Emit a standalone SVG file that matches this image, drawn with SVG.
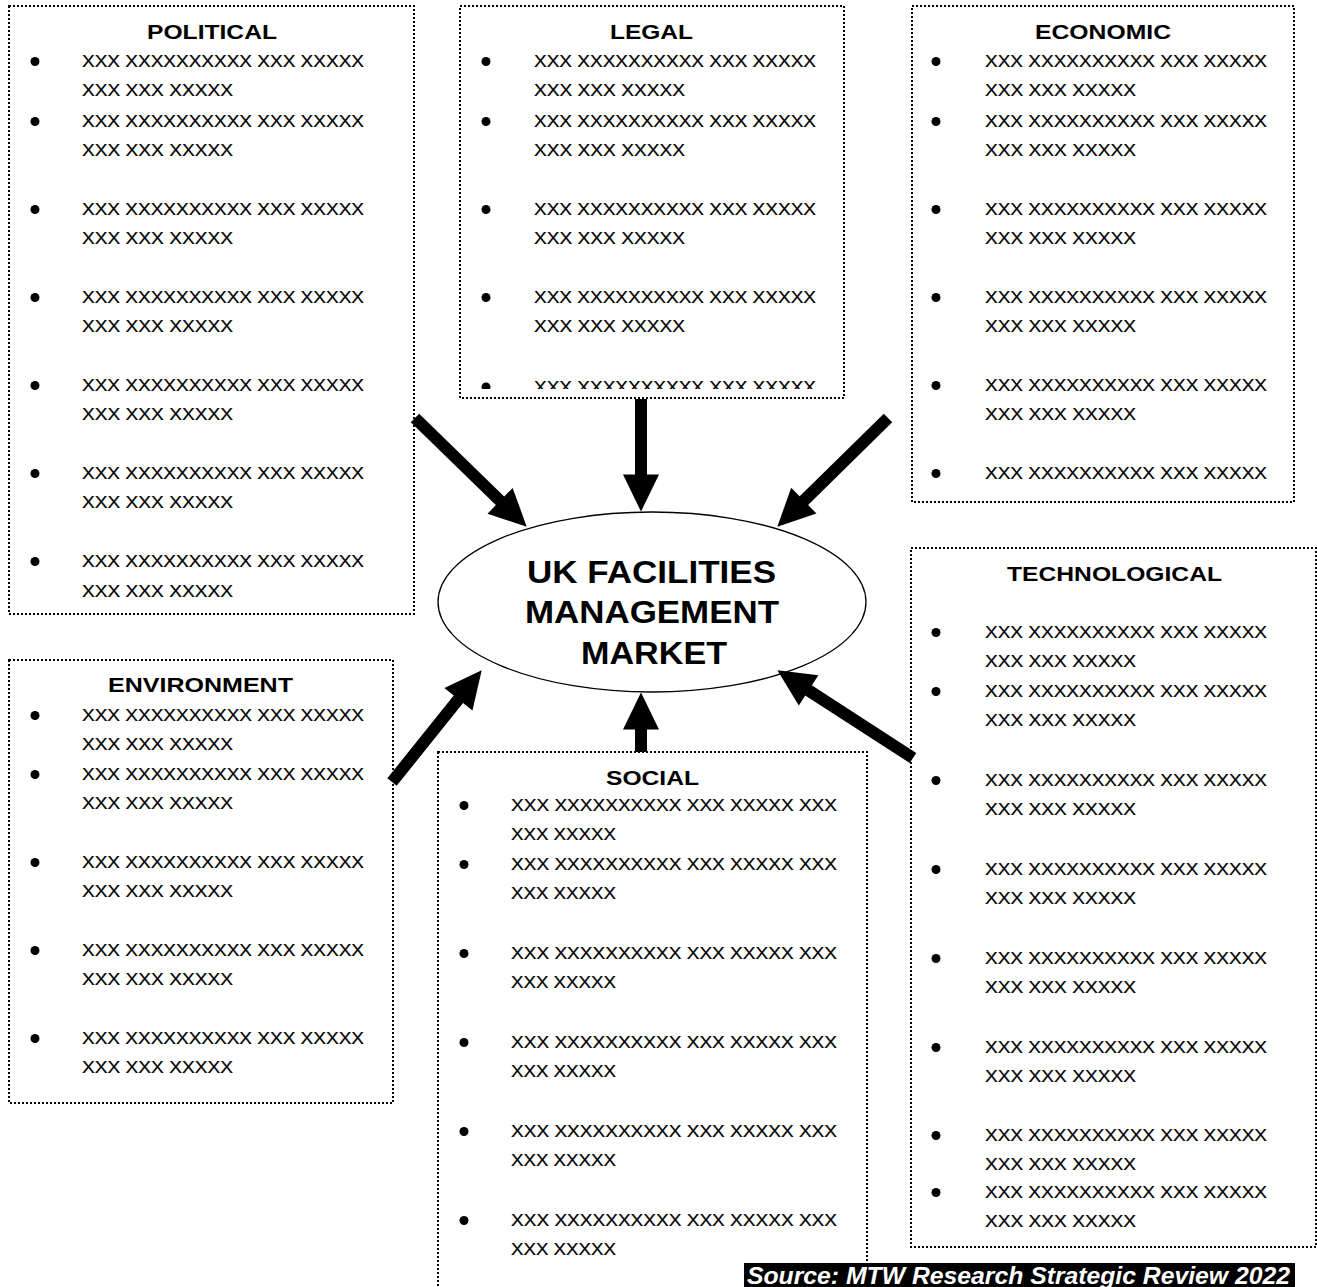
<svg xmlns="http://www.w3.org/2000/svg" width="1317" height="1287" viewBox="0 0 1317 1287">
<style>
.box{fill:#fff;stroke:#000;stroke-width:2;stroke-dasharray:2 2}
.t{font-family:"Liberation Sans",Arial,sans-serif;font-size:17px;fill:#000;stroke:#000;stroke-width:0.2}
.h{font-family:"Liberation Sans",Arial,sans-serif;font-size:19.5px;font-weight:bold;text-anchor:middle;fill:#000}
.c{font-family:"Liberation Sans",Arial,sans-serif;font-size:32px;font-weight:bold;text-anchor:middle;fill:#000}
.arrow{stroke:#000;stroke-width:12;fill:none;marker-end:url(#ah)}
.src{font-family:"Liberation Sans",Arial,sans-serif;font-size:24px;font-weight:bold;font-style:italic;fill:#fff}
</style>
<defs>
<marker id="ah" markerUnits="strokeWidth" markerWidth="3.1" markerHeight="3" refX="0.05" refY="1.5" orient="auto" overflow="visible">
<path d="M0,0 L3.1,1.5 L0,3 z" fill="#000"/>
</marker>
<clipPath id="legalClip"><rect x="460" y="6" width="384" height="383"/></clipPath>
</defs>
<rect width="1317" height="1287" fill="#fff"/>

<g id="political">
<rect class="box" x="9" y="6" width="405" height="608"/>
<text class="h" x="212" y="39" textLength="130" lengthAdjust="spacingAndGlyphs">POLITICAL</text>
<g fill="#000"><circle cx="35" cy="61.5" r="4.5"/><circle cx="35" cy="121.5" r="4.5"/><circle cx="35" cy="209.5" r="4.5"/><circle cx="35" cy="297.5" r="4.5"/><circle cx="35" cy="385.5" r="4.5"/><circle cx="35" cy="473.5" r="4.5"/><circle cx="35" cy="561.5" r="4.5"/></g>
<text class="t" x="82" y="67" textLength="282" lengthAdjust="spacingAndGlyphs">XXX XXXXXXXXXX XXX XXXXX</text>
<text class="t" x="82" y="96" textLength="151" lengthAdjust="spacingAndGlyphs">XXX XXX XXXXX</text>
<text class="t" x="82" y="127" textLength="282" lengthAdjust="spacingAndGlyphs">XXX XXXXXXXXXX XXX XXXXX</text>
<text class="t" x="82" y="156" textLength="151" lengthAdjust="spacingAndGlyphs">XXX XXX XXXXX</text>
<text class="t" x="82" y="215" textLength="282" lengthAdjust="spacingAndGlyphs">XXX XXXXXXXXXX XXX XXXXX</text>
<text class="t" x="82" y="244" textLength="151" lengthAdjust="spacingAndGlyphs">XXX XXX XXXXX</text>
<text class="t" x="82" y="303" textLength="282" lengthAdjust="spacingAndGlyphs">XXX XXXXXXXXXX XXX XXXXX</text>
<text class="t" x="82" y="332" textLength="151" lengthAdjust="spacingAndGlyphs">XXX XXX XXXXX</text>
<text class="t" x="82" y="391" textLength="282" lengthAdjust="spacingAndGlyphs">XXX XXXXXXXXXX XXX XXXXX</text>
<text class="t" x="82" y="420" textLength="151" lengthAdjust="spacingAndGlyphs">XXX XXX XXXXX</text>
<text class="t" x="82" y="479" textLength="282" lengthAdjust="spacingAndGlyphs">XXX XXXXXXXXXX XXX XXXXX</text>
<text class="t" x="82" y="508" textLength="151" lengthAdjust="spacingAndGlyphs">XXX XXX XXXXX</text>
<text class="t" x="82" y="567" textLength="282" lengthAdjust="spacingAndGlyphs">XXX XXXXXXXXXX XXX XXXXX</text>
<text class="t" x="82" y="597" textLength="151" lengthAdjust="spacingAndGlyphs">XXX XXX XXXXX</text>
</g>

<g id="legal">
<rect class="box" x="460" y="6" width="384" height="392"/>
<text class="h" x="651.5" y="39" textLength="83" lengthAdjust="spacingAndGlyphs">LEGAL</text>
<g fill="#000"><circle cx="486" cy="61.5" r="4.5"/><circle cx="486" cy="121.5" r="4.5"/><circle cx="486" cy="209.5" r="4.5"/><circle cx="486" cy="297.5" r="4.5"/></g>
<text class="t" x="534" y="67" textLength="282" lengthAdjust="spacingAndGlyphs">XXX XXXXXXXXXX XXX XXXXX</text>
<text class="t" x="534" y="96" textLength="151" lengthAdjust="spacingAndGlyphs">XXX XXX XXXXX</text>
<text class="t" x="534" y="127" textLength="282" lengthAdjust="spacingAndGlyphs">XXX XXXXXXXXXX XXX XXXXX</text>
<text class="t" x="534" y="156" textLength="151" lengthAdjust="spacingAndGlyphs">XXX XXX XXXXX</text>
<text class="t" x="534" y="215" textLength="282" lengthAdjust="spacingAndGlyphs">XXX XXXXXXXXXX XXX XXXXX</text>
<text class="t" x="534" y="244" textLength="151" lengthAdjust="spacingAndGlyphs">XXX XXX XXXXX</text>
<text class="t" x="534" y="303" textLength="282" lengthAdjust="spacingAndGlyphs">XXX XXXXXXXXXX XXX XXXXX</text>
<text class="t" x="534" y="332" textLength="151" lengthAdjust="spacingAndGlyphs">XXX XXX XXXXX</text>
<g clip-path="url(#legalClip)">
<circle cx="486" cy="387" r="4.5" fill="#000"/>
<text class="t" x="534" y="393" textLength="282" lengthAdjust="spacingAndGlyphs">XXX XXXXXXXXXX XXX XXXXX</text>
</g>
</g>

<g id="economic">
<rect class="box" x="912" y="6" width="382" height="496"/>
<text class="h" x="1103" y="39" textLength="136" lengthAdjust="spacingAndGlyphs">ECONOMIC</text>
<g fill="#000"><circle cx="936" cy="61.5" r="4.5"/><circle cx="936" cy="121.5" r="4.5"/><circle cx="936" cy="209.5" r="4.5"/><circle cx="936" cy="297.5" r="4.5"/><circle cx="936" cy="385.5" r="4.5"/><circle cx="936" cy="473.5" r="4.5"/></g>
<text class="t" x="985" y="67" textLength="282" lengthAdjust="spacingAndGlyphs">XXX XXXXXXXXXX XXX XXXXX</text>
<text class="t" x="985" y="96" textLength="151" lengthAdjust="spacingAndGlyphs">XXX XXX XXXXX</text>
<text class="t" x="985" y="127" textLength="282" lengthAdjust="spacingAndGlyphs">XXX XXXXXXXXXX XXX XXXXX</text>
<text class="t" x="985" y="156" textLength="151" lengthAdjust="spacingAndGlyphs">XXX XXX XXXXX</text>
<text class="t" x="985" y="215" textLength="282" lengthAdjust="spacingAndGlyphs">XXX XXXXXXXXXX XXX XXXXX</text>
<text class="t" x="985" y="244" textLength="151" lengthAdjust="spacingAndGlyphs">XXX XXX XXXXX</text>
<text class="t" x="985" y="303" textLength="282" lengthAdjust="spacingAndGlyphs">XXX XXXXXXXXXX XXX XXXXX</text>
<text class="t" x="985" y="332" textLength="151" lengthAdjust="spacingAndGlyphs">XXX XXX XXXXX</text>
<text class="t" x="985" y="391" textLength="282" lengthAdjust="spacingAndGlyphs">XXX XXXXXXXXXX XXX XXXXX</text>
<text class="t" x="985" y="420" textLength="151" lengthAdjust="spacingAndGlyphs">XXX XXX XXXXX</text>
<text class="t" x="985" y="479" textLength="282" lengthAdjust="spacingAndGlyphs">XXX XXXXXXXXXX XXX XXXXX</text>
</g>

<g id="technological">
<rect class="box" x="911" y="548" width="405" height="699"/>
<text class="h" x="1114.5" y="581" textLength="215" lengthAdjust="spacingAndGlyphs">TECHNOLOGICAL</text>
<g fill="#000"><circle cx="936" cy="632.5" r="4.5"/><circle cx="936" cy="691.5" r="4.5"/><circle cx="936" cy="780.5" r="4.5"/><circle cx="936" cy="869.5" r="4.5"/><circle cx="936" cy="958.5" r="4.5"/><circle cx="936" cy="1047.5" r="4.5"/><circle cx="936" cy="1135.5" r="4.5"/><circle cx="936" cy="1192.5" r="4.5"/></g>
<text class="t" x="985" y="638" textLength="282" lengthAdjust="spacingAndGlyphs">XXX XXXXXXXXXX XXX XXXXX</text>
<text class="t" x="985" y="667" textLength="151" lengthAdjust="spacingAndGlyphs">XXX XXX XXXXX</text>
<text class="t" x="985" y="697" textLength="282" lengthAdjust="spacingAndGlyphs">XXX XXXXXXXXXX XXX XXXXX</text>
<text class="t" x="985" y="726" textLength="151" lengthAdjust="spacingAndGlyphs">XXX XXX XXXXX</text>
<text class="t" x="985" y="786" textLength="282" lengthAdjust="spacingAndGlyphs">XXX XXXXXXXXXX XXX XXXXX</text>
<text class="t" x="985" y="815" textLength="151" lengthAdjust="spacingAndGlyphs">XXX XXX XXXXX</text>
<text class="t" x="985" y="875" textLength="282" lengthAdjust="spacingAndGlyphs">XXX XXXXXXXXXX XXX XXXXX</text>
<text class="t" x="985" y="904" textLength="151" lengthAdjust="spacingAndGlyphs">XXX XXX XXXXX</text>
<text class="t" x="985" y="964" textLength="282" lengthAdjust="spacingAndGlyphs">XXX XXXXXXXXXX XXX XXXXX</text>
<text class="t" x="985" y="993" textLength="151" lengthAdjust="spacingAndGlyphs">XXX XXX XXXXX</text>
<text class="t" x="985" y="1053" textLength="282" lengthAdjust="spacingAndGlyphs">XXX XXXXXXXXXX XXX XXXXX</text>
<text class="t" x="985" y="1082" textLength="151" lengthAdjust="spacingAndGlyphs">XXX XXX XXXXX</text>
<text class="t" x="985" y="1141" textLength="282" lengthAdjust="spacingAndGlyphs">XXX XXXXXXXXXX XXX XXXXX</text>
<text class="t" x="985" y="1170" textLength="151" lengthAdjust="spacingAndGlyphs">XXX XXX XXXXX</text>
<text class="t" x="985" y="1198" textLength="282" lengthAdjust="spacingAndGlyphs">XXX XXXXXXXXXX XXX XXXXX</text>
<text class="t" x="985" y="1227" textLength="151" lengthAdjust="spacingAndGlyphs">XXX XXX XXXXX</text>
</g>

<g id="environment">
<rect class="box" x="9" y="660" width="384" height="443"/>
<text class="h" x="200.5" y="692" textLength="185" lengthAdjust="spacingAndGlyphs">ENVIRONMENT</text>
<g fill="#000"><circle cx="35" cy="715.5" r="4.5"/><circle cx="35" cy="774.5" r="4.5"/><circle cx="35" cy="862.5" r="4.5"/><circle cx="35" cy="950.5" r="4.5"/><circle cx="35" cy="1038.5" r="4.5"/></g>
<text class="t" x="82" y="721" textLength="282" lengthAdjust="spacingAndGlyphs">XXX XXXXXXXXXX XXX XXXXX</text>
<text class="t" x="82" y="750" textLength="151" lengthAdjust="spacingAndGlyphs">XXX XXX XXXXX</text>
<text class="t" x="82" y="780" textLength="282" lengthAdjust="spacingAndGlyphs">XXX XXXXXXXXXX XXX XXXXX</text>
<text class="t" x="82" y="809" textLength="151" lengthAdjust="spacingAndGlyphs">XXX XXX XXXXX</text>
<text class="t" x="82" y="868" textLength="282" lengthAdjust="spacingAndGlyphs">XXX XXXXXXXXXX XXX XXXXX</text>
<text class="t" x="82" y="897" textLength="151" lengthAdjust="spacingAndGlyphs">XXX XXX XXXXX</text>
<text class="t" x="82" y="956" textLength="282" lengthAdjust="spacingAndGlyphs">XXX XXXXXXXXXX XXX XXXXX</text>
<text class="t" x="82" y="985" textLength="151" lengthAdjust="spacingAndGlyphs">XXX XXX XXXXX</text>
<text class="t" x="82" y="1044" textLength="282" lengthAdjust="spacingAndGlyphs">XXX XXXXXXXXXX XXX XXXXX</text>
<text class="t" x="82" y="1073" textLength="151" lengthAdjust="spacingAndGlyphs">XXX XXX XXXXX</text>
</g>

<g id="social">
<rect class="box" x="438" y="752" width="429" height="560"/>
<text class="h" x="652.5" y="785" textLength="93" lengthAdjust="spacingAndGlyphs">SOCIAL</text>
<g fill="#000"><circle cx="464" cy="805.5" r="4.5"/><circle cx="464" cy="864.5" r="4.5"/><circle cx="464" cy="953.5" r="4.5"/><circle cx="464" cy="1042.5" r="4.5"/><circle cx="464" cy="1131.5" r="4.5"/><circle cx="464" cy="1220.5" r="4.5"/></g>
<text class="t" x="511" y="811" textLength="326" lengthAdjust="spacingAndGlyphs">XXX XXXXXXXXXX XXX XXXXX XXX</text>
<text class="t" x="511" y="840" textLength="105" lengthAdjust="spacingAndGlyphs">XXX XXXXX</text>
<text class="t" x="511" y="870" textLength="326" lengthAdjust="spacingAndGlyphs">XXX XXXXXXXXXX XXX XXXXX XXX</text>
<text class="t" x="511" y="899" textLength="105" lengthAdjust="spacingAndGlyphs">XXX XXXXX</text>
<text class="t" x="511" y="959" textLength="326" lengthAdjust="spacingAndGlyphs">XXX XXXXXXXXXX XXX XXXXX XXX</text>
<text class="t" x="511" y="988" textLength="105" lengthAdjust="spacingAndGlyphs">XXX XXXXX</text>
<text class="t" x="511" y="1048" textLength="326" lengthAdjust="spacingAndGlyphs">XXX XXXXXXXXXX XXX XXXXX XXX</text>
<text class="t" x="511" y="1077" textLength="105" lengthAdjust="spacingAndGlyphs">XXX XXXXX</text>
<text class="t" x="511" y="1137" textLength="326" lengthAdjust="spacingAndGlyphs">XXX XXXXXXXXXX XXX XXXXX XXX</text>
<text class="t" x="511" y="1166" textLength="105" lengthAdjust="spacingAndGlyphs">XXX XXXXX</text>
<text class="t" x="511" y="1226" textLength="326" lengthAdjust="spacingAndGlyphs">XXX XXXXXXXXXX XXX XXXXX XXX</text>
<text class="t" x="511" y="1255" textLength="105" lengthAdjust="spacingAndGlyphs">XXX XXXXX</text>
</g>

<g id="center">
<ellipse cx="652" cy="602" rx="214" ry="90" fill="#fff" stroke="#000" stroke-width="1.3"/>
<text class="c" x="651.5" y="583" textLength="249" lengthAdjust="spacingAndGlyphs">UK FACILITIES</text>
<text class="c" x="652" y="623" textLength="254" lengthAdjust="spacingAndGlyphs">MANAGEMENT</text>
<text class="c" x="654" y="664" textLength="146" lengthAdjust="spacingAndGlyphs">MARKET</text>
</g>

<g id="connectors">
<line class="arrow" x1="415" y1="418" x2="500.5" y2="501.2"/>
<line class="arrow" x1="641" y1="399" x2="641" y2="475"/>
<line class="arrow" x1="888" y1="418" x2="803.4" y2="501.1"/>
<line class="arrow" x1="392" y1="782" x2="458.8" y2="698.8"/>
<line class="arrow" x1="641" y1="752" x2="641" y2="729"/>
<line class="arrow" x1="913" y1="758" x2="808.1" y2="690.1"/>
</g>

<g id="source">
<rect x="744" y="1263" width="551" height="24" fill="#000"/>
<text class="src" x="747" y="1284" textLength="543" lengthAdjust="spacingAndGlyphs">Source: MTW Research Strategic Review 2022</text>
</g>
</svg>
